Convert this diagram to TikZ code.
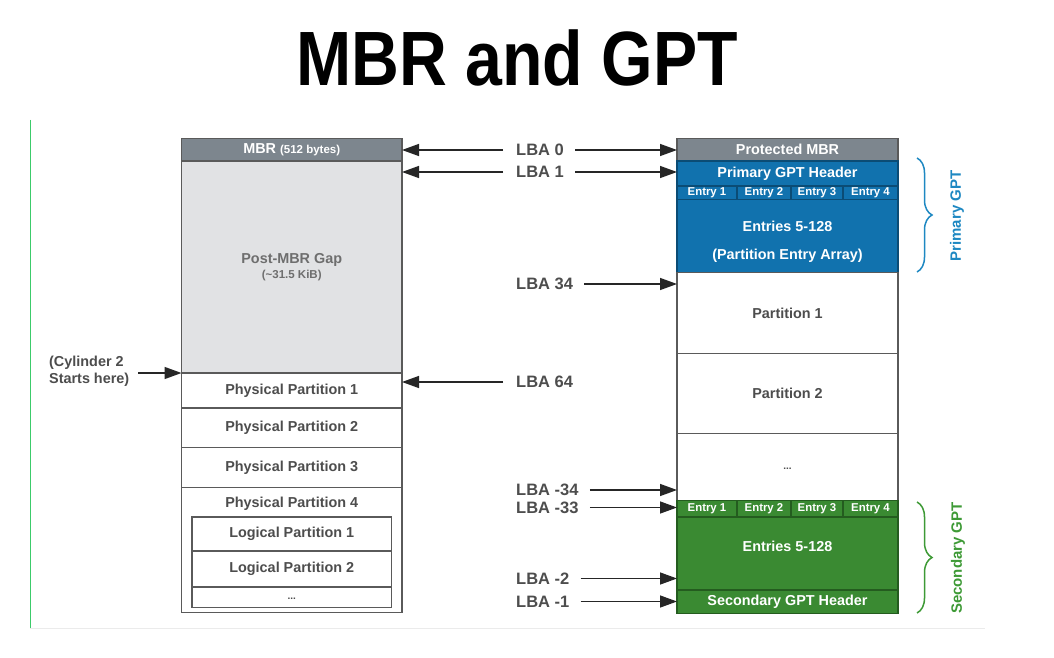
\documentclass[tikz,border=0pt]{standalone}
\usepackage{fontspec}
\setmainfont{Liberation Sans}
\usetikzlibrary{arrows.meta,decorations.pathreplacing}
\definecolor{hdrgray}{HTML}{7D868E}
\definecolor{gapgray}{HTML}{E1E2E4}
\definecolor{gaptext}{HTML}{6E6E6E}
\definecolor{gptblue}{HTML}{1172AE}
\definecolor{bluedark}{HTML}{0B4C75}
\definecolor{gptgreen}{HTML}{3A8A32}
\definecolor{greendark}{HTML}{245C1F}
\definecolor{txtgray}{HTML}{4D4D4D}
\definecolor{outline}{HTML}{5A5A5A}
\definecolor{lblblue}{HTML}{1E88C2}
\definecolor{lblgreen}{HTML}{3E9A36}
\definecolor{sidegreen}{HTML}{3CCB6A}
\begin{document}
\begin{tikzpicture}[x=1pt,y=-1pt,
  cell/.style={draw=outline, line width=1.2pt, rectangle, inner sep=0pt, outer sep=0pt,
    font=\bfseries\fontsize{14.4}{16}\selectfont, text=txtgray, fill=white},
  bluecell/.style={cell, draw=bluedark, fill=gptblue, text=white},
  greencell/.style={cell, draw=greendark, fill=gptgreen, text=white},
  entrycell/.style={font=\bfseries\fontsize{11.4}{12}\selectfont, minimum height=13.5pt},
  txt/.style={inner sep=0pt, font=\bfseries\fontsize{14.4}{16}\selectfont, text=txtgray},
  lba/.style={anchor=west, inner sep=0pt, font=\bfseries\fontsize{16.5}{18}\selectfont, text=txtgray},
  arr/.style={-{Triangle[length=17pt,width=12pt]}, line width=1.4pt, draw=black!85},
  gbrace/.style={decorate, decoration={brace, amplitude=15pt}, line width=1.5pt}
]
\useasboundingbox (0,0) rectangle (1054,658);
\fill[white] (0,0) rectangle (1054,658);
\draw[sidegreen, line width=1pt] (30,120) -- (30,628);
\draw[black!8, line width=0.8pt] (30,628) -- (985,628);

% title
\node[inner sep=0pt, anchor=base] (title) at (517,86)
  {\scalebox{0.86}[1]{\bfseries\fontsize{77}{80}\selectfont MBR and GPT}};

% ---------------- left (MBR) column
\node[cell, fill=hdrgray, text=white, minimum width=220.5pt, minimum height=22.5pt] (mbr) at (291.75,149.75)
  {MBR {\fontsize{11.5}{12}\selectfont (512 bytes)}};
\node[cell, fill=gapgray, text=gaptext, minimum width=220.5pt, minimum height=212pt, align=center] (gap) at (291.75,267)
  {Post-MBR Gap\\[-1pt]{\fontsize{11.5}{13}\selectfont (\textasciitilde31.5 KiB)}};
\node[cell, minimum width=220.5pt, minimum height=35pt] (pp1) at (291.75,390.5) {Physical Partition 1};
\node[cell, minimum width=220.5pt, minimum height=39.5pt] (pp2) at (291.75,427.75) {Physical Partition 2};
\node[cell, minimum width=220.5pt, minimum height=40pt] (pp3) at (291.75,467.5) {Physical Partition 3};
\node[cell, minimum width=220.5pt, minimum height=125pt] (pp4) at (291.75,550) {};
\node[txt] (pp4t) at (291.75,504) {Physical Partition 4};
\node[cell, minimum width=199.5pt, minimum height=34pt] (lp1) at (291.75,534) {Logical Partition 1};
\node[cell, minimum width=199.5pt, minimum height=36pt] (lp2) at (291.75,569) {Logical Partition 2};
\node[cell, minimum width=199.5pt, minimum height=20.5pt] (ldots) at (291.75,597.25) {};
\node[txt, font=\bfseries\fontsize{10}{10}\selectfont] (ldotst) at (291.75,599) {...};

% cylinder note
\node[anchor=west, inner sep=0pt, align=left, text=txtgray, font=\bfseries\fontsize{14.4}{17}\selectfont] (cyl) at (49,371.5)
  {(Cylinder 2\\Starts here)};
\coordinate (cylstart) at (138,373);
\draw[arr] (cylstart) -- (pp1.north west);

% ---------------- right (GPT) column
\node[cell, fill=hdrgray, text=white, minimum width=221pt, minimum height=22.5pt] (pmbr) at (787.5,149.75) {Protected MBR};
\node[bluecell, minimum width=221pt, minimum height=25pt] (pgh) at (787.5,173.5) {Primary GPT Header};
\node[bluecell, entrycell, minimum width=60pt] (pe1) at (707,192.75) {Entry 1};
\node[bluecell, entrycell, minimum width=54pt] (pe2) at (764,192.75) {Entry 2};
\node[bluecell, entrycell, minimum width=52pt] (pe3) at (817,192.75) {Entry 3};
\node[bluecell, entrycell, minimum width=55pt] (pe4) at (870.5,192.75) {Entry 4};
\node[bluecell, minimum width=221pt, minimum height=73pt] (parr) at (787.5,236) {};
\node[txt, text=white, align=center, font=\bfseries\fontsize{14.4}{27.5}\selectfont] (parrt) at (787.5,242)
  {Entries 5-128\\(Partition Entry Array)};
\node[cell, minimum width=221pt, minimum height=81pt] (part1) at (787.5,313) {Partition 1};
\node[cell, minimum width=221pt, minimum height=80pt] (part2) at (787.5,393.5) {Partition 2};
\node[cell, minimum width=221pt, minimum height=67pt] (pdots) at (787.5,467) {};
\node[txt, font=\bfseries\fontsize{10}{10}\selectfont] (pdotst) at (787.5,469) {...};
\node[greencell, entrycell, minimum width=60pt, minimum height=16.5pt] (se1) at (707,508.75) {Entry 1};
\node[greencell, entrycell, minimum width=54pt, minimum height=16.5pt] (se2) at (764,508.75) {Entry 2};
\node[greencell, entrycell, minimum width=52pt, minimum height=16.5pt] (se3) at (817,508.75) {Entry 3};
\node[greencell, entrycell, minimum width=55pt, minimum height=16.5pt] (se4) at (870.5,508.75) {Entry 4};
\node[greencell, minimum width=221pt, minimum height=73pt] (sarr) at (787.5,553.5) {};
\node[txt, text=white] (sarrt) at (787.5,546) {Entries 5-128};
\node[greencell, minimum width=221pt, minimum height=23.5pt] (sgh) at (787.5,601.75) {Secondary GPT Header};

% braces
\coordinate (pbt) at (917,158);
\coordinate (pbb) at (917,272);
\draw[gbrace, lblblue] (pbt) -- (pbb);
\node[rotate=90, inner sep=0pt, text=lblblue, font=\bfseries\fontsize{15}{16}\selectfont] (plbl) at (957,216) {Primary GPT};
\coordinate (sbt) at (917,502);
\coordinate (sbb) at (917,613);
\draw[gbrace, lblgreen] (sbt) -- (sbb);
\node[rotate=90, inner sep=0pt, text=lblgreen, font=\bfseries\fontsize{15}{16}\selectfont] (slbl) at (958,558) {Secondary GPT};

% LBA labels
\node[lba] (lba0) at (516,150) {LBA 0};
\node[lba] (lba1) at (516,172) {LBA 1};
\node[lba] (lba34) at (516,284) {LBA 34};
\node[lba] (lba64) at (516,382) {LBA 64};
\node[lba] (lbam34) at (516,490) {LBA -34};
\node[lba] (lbam33) at (516,507.5) {LBA -33};
\node[lba] (lbam2) at (516,578.5) {LBA -2};
\node[lba] (lbam1) at (516,601.5) {LBA -1};

% arrows
\draw[arr] ([xshift=-13pt]lba0.west) -- (mbr.east |- lba0.west);
\draw[arr] ([xshift=11pt]lba0.east) -- (pmbr.west |- lba0.east);
\draw[arr] ([xshift=-13pt]lba1.west) -- (gap.east |- lba1.west);
\draw[arr] ([xshift=11pt]lba1.east) -- (pgh.west |- lba1.east);
\draw[arr] ([xshift=11pt]lba34.east) -- (part1.west |- lba34.east);
\draw[arr] ([xshift=-13pt]lba64.west) -- (pp1.east |- lba64.west);
\draw[arr] ([xshift=11pt]lbam34.east) -- (pdots.west |- lbam34.east);
\draw[arr] ([xshift=11pt]lbam33.east) -- (se1.west |- lbam33.east);
\draw[arr] ([xshift=11pt]lbam2.east) -- (sarr.west |- lbam2.east);
\draw[arr] ([xshift=11pt]lbam1.east) -- (sgh.west |- lbam1.east);
\end{tikzpicture}
\end{document}
